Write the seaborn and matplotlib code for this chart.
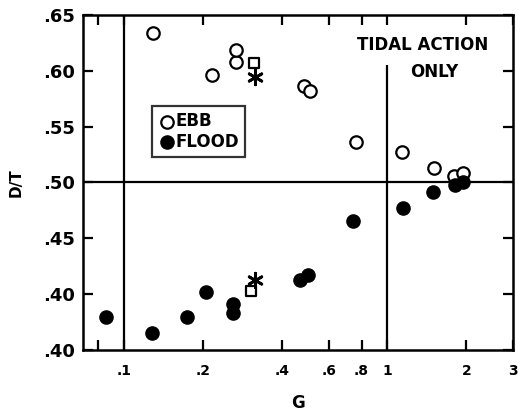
import numpy as np
import pandas as pd
import matplotlib
matplotlib.use("Agg")
import matplotlib.pyplot as plt
import seaborn as sns

# ── Data ─────────────────────────────────────────────────────────────────
ebb_g = [0.129, 0.217, 0.267, 0.267, 0.484, 0.51, 0.759, 1.14, 1.50, 1.80, 1.94]
ebb_dt = [0.634, 0.596, 0.608, 0.619, 0.586, 0.582, 0.536, 0.527, 0.513, 0.506, 0.508]

flood_g = [0.086, 0.128, 0.174, 0.206, 0.260, 0.260, 0.468, 0.50, 0.739, 1.15, 1.49, 1.81, 1.94]
flood_dt = [0.379, 0.365, 0.379, 0.402, 0.391, 0.383, 0.413, 0.417, 0.465, 0.477, 0.491, 0.498, 0.500]

square_g = [0.312, 0.305]
square_dt = [0.607, 0.403]

star_g = [0.315, 0.315]
star_dt = [0.594, 0.413]

y_ticks = [0.35, 0.40, 0.45, 0.50, 0.55, 0.60, 0.65]
y_labels = [".40", ".40", ".45", ".50", ".55", ".60", ".65"]
x_ticks = [0.08, 0.1, 0.2, 0.4, 0.6, 0.8, 1, 2, 3]
x_labels = ["", ".1", ".2", ".4", ".6", ".8", "1", "2", "3"]

df = pd.DataFrame({
    "G": ebb_g + flood_g,
    "DT": ebb_dt + flood_dt,
    "tide": ["EBB"] * len(ebb_g) + ["FLOOD"] * len(flood_g),
})

sns.set_style("ticks")
plt.rcParams["font.family"] = ["DejaVu Sans"]
plt.rcParams["font.weight"] = "bold"
plt.rcParams["text.color"] = "black"
plt.rcParams["axes.labelcolor"] = "black"
plt.rcParams["xtick.color"] = "black"
plt.rcParams["ytick.color"] = "black"

fig = plt.figure(figsize=(5.18, 4.16), dpi=100)
ax = fig.add_axes([0.160, 0.159, 0.830, 0.805])

sns.scatterplot(data=df[df.tide == "EBB"], x="G", y="DT", ax=ax,
                marker="o", s=80, facecolor="white", edgecolor="black",
                linewidth=1.6, label="EBB", zorder=3)
sns.scatterplot(data=df[df.tide == "FLOOD"], x="G", y="DT", ax=ax,
                marker="o", s=90, color="black", edgecolor="black",
                linewidth=1.0, label="FLOOD", zorder=3)
ax.scatter(square_g, square_dt, marker="s", s=45, facecolor="white",
           edgecolor="black", linewidth=1.6, zorder=4)
ax.scatter(star_g, star_dt, marker=(6, 2, 0), s=110, color="black",
           linewidth=2.0, zorder=5)

ax.set_xscale("log")
ax.set_xlim(0.07, 3)
ax.set_ylim(0.35, 0.65)

ax.axhline(0.50, color="black", lw=1.6, zorder=2)
ax.axvline(0.1, color="black", lw=1.6, zorder=2)
ax.vlines(1.0, 0.35, 0.605, color="black", lw=1.6, zorder=2)

ax.set_xticks(x_ticks)
ax.set_xticklabels(x_labels, fontsize=10, fontweight="bold")
ax.xaxis.set_minor_locator(matplotlib.ticker.NullLocator())
ax.set_yticks(y_ticks)
ax.set_yticklabels(y_labels, fontsize=13, fontweight="bold")
ax.tick_params(direction="in", length=7, width=1.6, top=True, right=True,
               colors="black")
ax.tick_params(axis="x", pad=10)
ax.tick_params(axis="y", pad=6)

for sp in ax.spines.values():
    sp.set_linewidth(1.8)
    sp.set_color("black")

ax.set_xlabel("G", fontsize=12, fontweight="bold", labelpad=12)
ax.set_ylabel("D/T", fontsize=11, fontweight="bold", labelpad=14)

ax.text(0.79, 0.91, "TIDAL ACTION", transform=ax.transAxes,
        ha="center", va="center", fontsize=12, fontweight="bold")
ax.text(0.817, 0.83, "ONLY", transform=ax.transAxes,
        ha="center", va="center", fontsize=12, fontweight="bold")

leg = ax.legend(loc="upper left", bbox_to_anchor=(0.160, 0.727), frameon=True,
                fancybox=False, edgecolor="black", fontsize=12,
                handletextpad=0.0, borderpad=0.35, labelspacing=0.15,
                handlelength=1.1, borderaxespad=0)
leg.get_frame().set_linewidth(1.6)
for t in leg.get_texts():
    t.set_fontweight("bold")
    t.set_color("black")

fig.savefig("out.png", dpi=100, facecolor="white")
